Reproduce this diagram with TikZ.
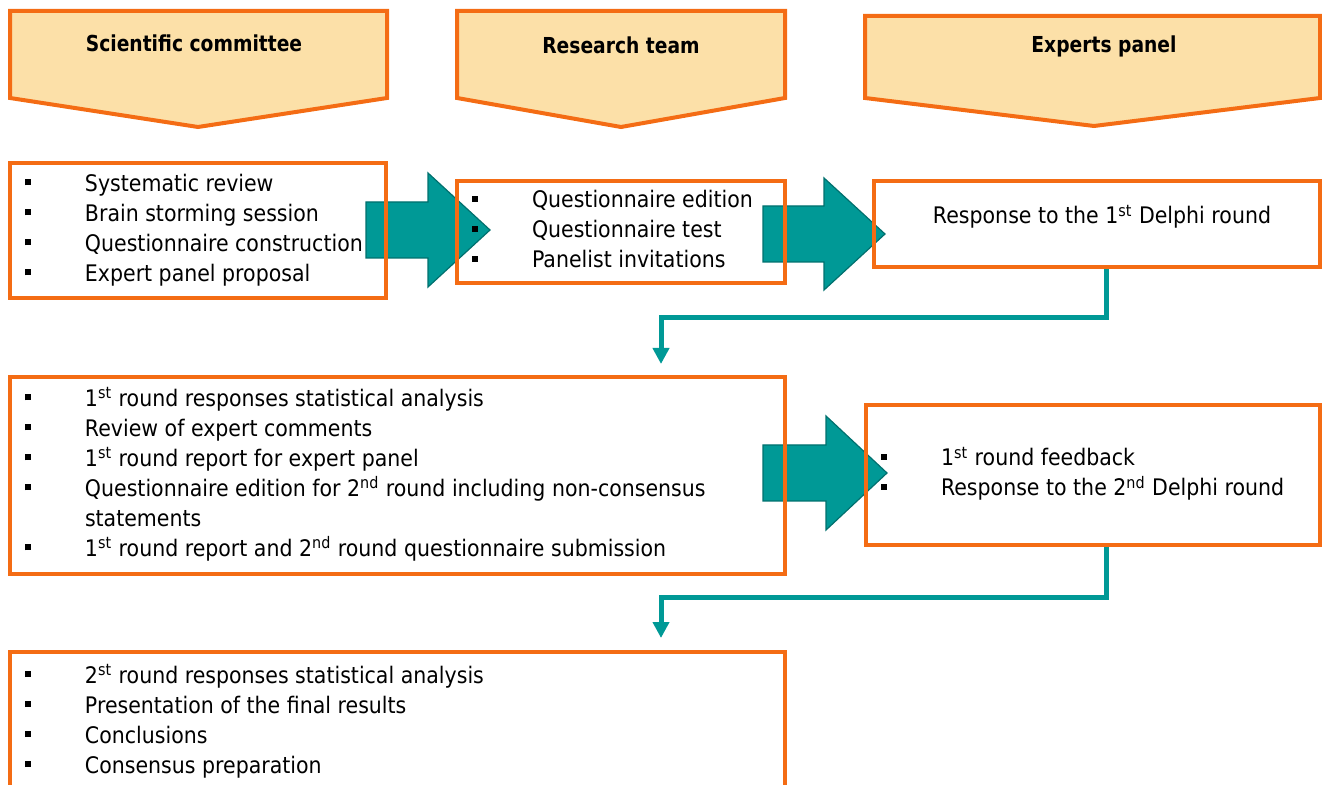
\documentclass[tikz,border=0pt]{standalone}
\usepackage{fontspec}
\setmainfont{DejaVu Sans}[FakeStretch=0.9]
\newfontfamily\headfont{DejaVu Sans}[FakeStretch=0.85]
\usetikzlibrary{arrows.meta}

\definecolor{delphiorange}{RGB}{244,108,20}
\definecolor{delphibeige}{RGB}{252,224,168}
\definecolor{delphiteal}{RGB}{0,153,150}
\definecolor{delphitealdark}{RGB}{0,112,110}

\newcommand{\sqb}{\rule[3pt]{3.2pt}{3.2pt}}

\begin{document}
\begin{tikzpicture}[
    x=0.5pt, y=-0.5pt,
    every node/.style={font=\fontsize{11.4}{15}\selectfont, inner sep=0pt},
    header/.style={draw=delphiorange, line width=2pt, fill=delphibeige},
    headtext/.style={font=\headfont\bfseries\fontsize{11}{13}\selectfont},
    listbox/.style={draw=delphiorange, line width=2pt, inner xsep=7.5pt, inner ysep=0pt},
    bigarrow/.style={fill=delphiteal, draw=delphitealdark, line width=0.6pt},
    link/.style={draw=delphiteal, line width=2.5pt, -{Triangle[width=8pt,length=8pt]}},
]
\useasboundingbox (0,0) rectangle (1322,785);
\clip (0,0) rectangle (1322,785);

% === Column headers ===
\filldraw[header] (10,11) -- (387,11) -- (387,98) -- (198,127) -- (10,98) -- cycle;
\filldraw[header] (457,11) -- (785,11) -- (785,98) -- (621,127) -- (457,98) -- cycle;
\filldraw[header] (865,16) -- (1320,16) -- (1320,98) -- (1094,126) -- (865,98) -- cycle;
\node[headtext, anchor=base] (hsci) at (194,52) {Scientific committee};
\node[headtext, anchor=base] (hres) at (621,54) {Research team};
\node[headtext, anchor=base] (hexp) at (1104,53) {Experts panel};

% === Block arrows (under the boxes) ===
\filldraw[bigarrow] (366,202) -- (428,202) -- (428,173) -- (490,230) -- (428,287) -- (428,258) -- (366,258) -- cycle;
\filldraw[bigarrow] (763,206) -- (824,206) -- (824,178) -- (885,234) -- (824,290) -- (824,262) -- (763,262) -- cycle;
\filldraw[bigarrow] (763,445) -- (826,445) -- (826,416) -- (887,473) -- (826,530) -- (826,501) -- (763,501) -- cycle;

% === First round ===
\node[listbox, minimum width=188pt, minimum height=67.5pt] (sci1) at (198,230.5) {%
\begin{tabular}{@{}p{30pt}@{}p{143pt}@{}}
\sqb & Systematic review\\
\sqb & Brain storming session\\
\sqb & Questionnaire construction\\
\sqb & Expert panel proposal
\end{tabular}};

\node[listbox, minimum width=164pt, minimum height=51pt] (res1) at (621,232) {%
\begin{tabular}{@{}p{30pt}@{}p{119pt}@{}}
\sqb & Questionnaire edition\\
\sqb & Questionnaire test\\
\sqb & Panelist invitations
\end{tabular}};

\node[listbox, minimum width=223pt, minimum height=43pt] (exp1) at (1097,224) {};
\node[anchor=base] (exp1txt) at (1102,224) {Response to the 1\textsuperscript{st} Delphi round};

% === Second round ===
\node[listbox, minimum width=387.5pt, minimum height=98.5pt] (sci2) at (397.5,475.5) {%
\begin{tabular}{@{}p{30pt}@{}p{342.5pt}@{}}
\sqb & 1\textsuperscript{st} round responses statistical analysis\\
\sqb & Review of expert comments\\
\sqb & 1\textsuperscript{st} round report for expert panel\\
\sqb & Questionnaire edition for 2\textsuperscript{nd} round including non-consensus\\
     & statements\\
\sqb & 1\textsuperscript{st} round report and 2\textsuperscript{nd} round questionnaire submission
\end{tabular}};

\node[listbox, minimum width=227pt, minimum height=70pt] (exp2) at (1093,475) {%
\begin{tabular}{@{}p{30pt}@{}p{182pt}@{}}
\sqb & 1\textsuperscript{st} round feedback\\
\sqb & Response to the 2\textsuperscript{nd} Delphi round
\end{tabular}};

% === Final round ===
\node[listbox, minimum width=387.5pt, minimum height=70pt] (sci3) at (397.5,722) {%
\begin{tabular}{@{}p{30pt}@{}p{342.5pt}@{}}
\sqb & 2\textsuperscript{st} round responses statistical analysis\\
\sqb & Presentation of the final results\\
\sqb & Conclusions\\
\sqb & Consensus preparation
\end{tabular}};

% === Feedback links ===
\draw[link, shorten >=5.5pt] (exp1.south -| 1106,0) -- (1106,318) -| (sci2.north -| 661,0);
\draw[link, shorten >=6pt] (exp2.south -| 1106,0) -- (1106,597) -| (sci3.north -| 661,0);

\end{tikzpicture}
\end{document}
